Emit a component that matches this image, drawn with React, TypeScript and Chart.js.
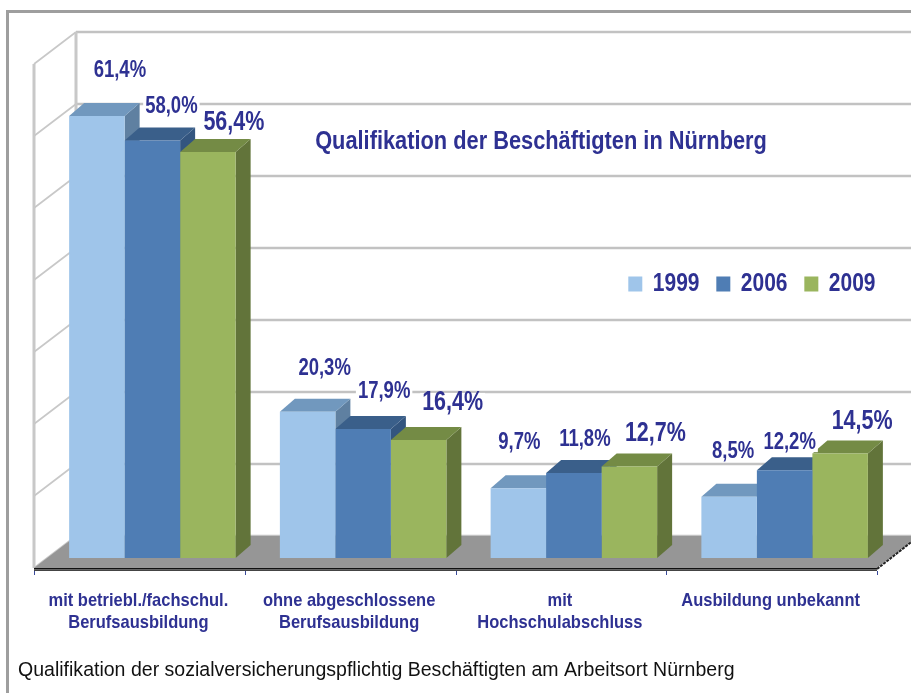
import React, { useEffect, useRef } from "react";
import { Chart, registerables } from "chart.js";

Chart.register(...registerables);

const categories = [
  ["mit betriebl./fachschul.", "Berufsausbildung"],
  ["ohne abgeschlossene", "Berufsausbildung"],
  ["mit", "Hochschulabschluss"],
  ["Ausbildung unbekannt"],
];
const values1999 = [61.4, 20.3, 9.7, 8.5];
const values2006 = [58.0, 17.9, 11.8, 12.2];
const values2009 = [56.4, 16.4, 12.7, 14.5];
const seriesNames = ["1999", "2006", "2009"];
const chartTitle = "Qualifikation der Beschäftigten in Nürnberg";
const caption = "Qualifikation der sozialversicherungspflichtig Beschäftigten am Arbeitsort Nürnberg";

// Layout-only: label shift from each bar's top-centre, per series then category
const labelShift = [
  [[23, -45], [17, -43], [1, -46], [4, -45]],
  [[19, -34], [21, -37], [11, -33], [5, -28]],
  [[26, -29], [34, -37], [26, -33], [22, -32]],
];

const NAVY = "#2E3192";
const FRONT = ["#9FC5EA", "#4F7DB4", "#9AB55E"];
const TOP = ["#7198BE", "#3A5F8A", "#748B45"];
const SIDE = ["#5F80A1", "#33557F", "#62743A"];
const DX = 15;
const DY = 13;

const poly = (ctx: CanvasRenderingContext2D, pts: number[][], fill: string) => {
  ctx.fillStyle = fill;
  ctx.beginPath();
  pts.forEach(([x, y], i) => (i ? ctx.lineTo(x, y) : ctx.moveTo(x, y)));
  ctx.closePath();
  ctx.fill();
};

const stretchedText = (
  ctx: CanvasRenderingContext2D,
  text: string,
  x: number,
  y: number,
  font: string,
  color: string,
  stretch: number,
  align: CanvasTextAlign = "center"
) => {
  ctx.save();
  ctx.translate(x, y);
  ctx.scale(1, stretch);
  ctx.font = font;
  ctx.fillStyle = color;
  ctx.textAlign = align;
  ctx.textBaseline = "middle";
  ctx.fillText(text, 0, 0);
  ctx.restore();
};

// The reference's text is vertically stretched; wrap a box's drawing in the same stretch.
const stretchDraw = (box: any, method: string, ctx: CanvasRenderingContext2D, cy: number, k: number) => {
  if (box.__stretched) return;
  box.__stretched = true;
  const orig = box[method];
  box[method] = function (...args: any[]) {
    ctx.save();
    ctx.translate(0, cy);
    ctx.scale(1, k);
    ctx.translate(0, -cy);
    orig.apply(this, args);
    ctx.restore();
  };
};

const scene = {
  id: "scene3d",
  beforeDraw(chart: any) {
    const lg = chart.legend;
    if (lg) {
      lg.left = 611.5;
      lg.right = 2000;
      lg.top = 256.5;
      lg.bottom = 310;
      stretchDraw(lg, "draw", chart.ctx, 283, 1.2);
    }
    stretchDraw(chart.scales.x, "drawLabels", chart.ctx, 600, 1.16);
  },
  beforeDatasetsDraw(chart: any) {
    const { ctx, chartArea: a, scales } = chart;
    const yS = scales.y;
    const xS = scales.x;
    const base = yS.getPixelForValue(0);
    const fl = a.left - 13, fr = a.right - 13, fy = base + 10;
    const bl = a.left + 29, br = a.right + 29, by = base - 22;

    ctx.save();
    // outer frame
    ctx.fillStyle = "#9E9E9E";
    ctx.fillRect(6, 10, chart.width - 6, 3);
    ctx.fillRect(6, 10, 3, chart.height - 10);

    // walls and grid
    yS.ticks.forEach((t: any) => {
      const dy = yS.getPixelForValue(t.value) - base;
      ctx.strokeStyle = "#C8C8C8";
      ctx.lineWidth = 1.6;
      ctx.beginPath();
      ctx.moveTo(fl, fy + dy);
      ctx.lineTo(bl, by + dy);
      ctx.stroke();
      ctx.strokeStyle = "#C2C2C2";
      ctx.lineWidth = 2.6;
      ctx.beginPath();
      ctx.moveTo(bl, by + dy);
      ctx.lineTo(chart.width, by + dy);
      ctx.stroke();
    });
    const topPx = yS.getPixelForValue(yS.max) - base;
    ctx.strokeStyle = "#C8C8C8";
    ctx.lineWidth = 3;
    ctx.beginPath();
    ctx.moveTo(fl, fy);
    ctx.lineTo(fl, fy + topPx);
    ctx.moveTo(bl, by);
    ctx.lineTo(bl, by + topPx);
    ctx.stroke();

    // floor
    poly(ctx, [[fl, fy], [fr, fy], [br, by], [bl, by]], "#969696");
    ctx.fillStyle = "#111";
    ctx.fillRect(fl, fy, fr - fl, 1.5);
    ctx.fillStyle = "#444";
    ctx.fillRect(fl, fy + 1.5, fr - fl, 1.5);
    ctx.strokeStyle = "#222";
    ctx.lineWidth = 2;
    ctx.setLineDash([3, 1]);
    ctx.beginPath();
    ctx.moveTo(fr, fy + 1);
    ctx.lineTo(br, by);
    ctx.stroke();
    ctx.setLineDash([]);

    // axis ticks
    const step = xS.width / categories.length;
    ctx.strokeStyle = "#3A4A9A";
    ctx.lineWidth = 1;
    for (let i = 0; i <= categories.length; i++) {
      const x = Math.round(fl + i * step) + 0.5;
      ctx.beginPath();
      ctx.moveTo(x, fy + 3);
      ctx.lineTo(x, fy + 7);
      ctx.stroke();
    }

    // 3D extrusion of each bar; fronts are then drawn by Chart.js on top
    categories.forEach((_, c) => {
      [0, 1, 2].forEach((d) => {
        const bar = chart.getDatasetMeta(d).data[c];
        const half = bar.width / 2;
        const L = bar.x - half, R = bar.x + half, T = bar.y, B = bar.base;
        poly(ctx, [[R, T], [R + DX, T - DY], [R + DX, B - DY], [R, B]], SIDE[d]);
        poly(ctx, [[L, T], [R, T], [R + DX, T - DY], [L + DX, T - DY]], TOP[d]);
      });
    });
    ctx.restore();
  },
  afterDatasetsDraw(chart: any) {
    const { ctx } = chart;
    chart.data.datasets.forEach((ds: any, d: number) => {
      const meta = chart.getDatasetMeta(d);
      const big = d === 2;
      const font = `bold ${big ? 21.5 : 18.5}px "Liberation Sans"`;
      meta.data.forEach((bar: any, c: number) => {
        const text = ds.data[c].toFixed(1).replace(".", ",") + "%";
        const [sx, sy] = labelShift[d][c];
        const x = bar.x + sx;
        const y = bar.y + sy;
        ctx.font = font;
        const w = ctx.measureText(text).width;
        ctx.fillStyle = "#FFFFFF";
        ctx.fillRect(x - w / 2 - 2, y - 10, w + 4, 20);
        stretchedText(ctx, text, x, y, font, NAVY, 1.25);
      });
    });
    stretchedText(ctx, chartTitle, 541, 142, 'bold 21.8px "Liberation Sans"', NAVY, 1.15);
    stretchedText(ctx, caption, 18, 670, '19.55px "Liberation Sans"', "#111111", 1.07, "left");
  },
};

export default function App() {
  const ref = useRef<HTMLCanvasElement>(null);
  useEffect(() => {
    if (!ref.current) return;
    const chart = new Chart(ref.current, {
      type: "bar",
      data: {
        labels: categories as any,
        datasets: [values1999, values2006, values2009].map((data, i) => ({
          label: seriesNames[i],
          data,
          backgroundColor: FRONT[i],
          borderWidth: 0,
          categoryPercentage: 0.79,
          barPercentage: 1,
        })),
      },
      options: {
        responsive: false,
        animation: false,
        devicePixelRatio: 1,
        layout: { padding: { left: 47, right: 21, top: 24, bottom: 0 } },
        scales: {
          x: {
            grid: { display: false },
            border: { display: false },
            afterFit: (s: any) => {
              s.height = 135;
            },
            ticks: {
              autoSkip: false,
              maxRotation: 0,
              minRotation: 0,
              labelOffset: -14,
              padding: 25,
              color: NAVY,
              font: { family: "Liberation Sans", weight: "bold", size: 16.5, lineHeight: 1.15 },
            },
          },
          y: {
            min: 0,
            max: 70,
            afterFit: (s: any) => {
              s.width = 0;
            },
            grid: { display: false },
            border: { display: false },
            ticks: { display: false, stepSize: 10 },
          },
        },
        plugins: {
          title: { display: false },
          tooltip: { enabled: false },
          legend: {
            position: "top",
            align: "start",
            maxHeight: 30,
            labels: {
              boxWidth: 14,
              boxHeight: 12.5,
              padding: 16.8,
              color: NAVY,
              font: { family: "Liberation Sans", weight: "bold", size: 21 },
            },
          },
        },
      } as any,
      plugins: [scene],
    });
    return () => chart.destroy();
  }, []);
  return (
    <div style={{ position: "fixed", left: 0, top: 0, width: 911, height: 693, background: "#fff" }}>
      <canvas ref={ref} width={911} height={693} style={{ display: "block" }} />
    </div>
  );
}
